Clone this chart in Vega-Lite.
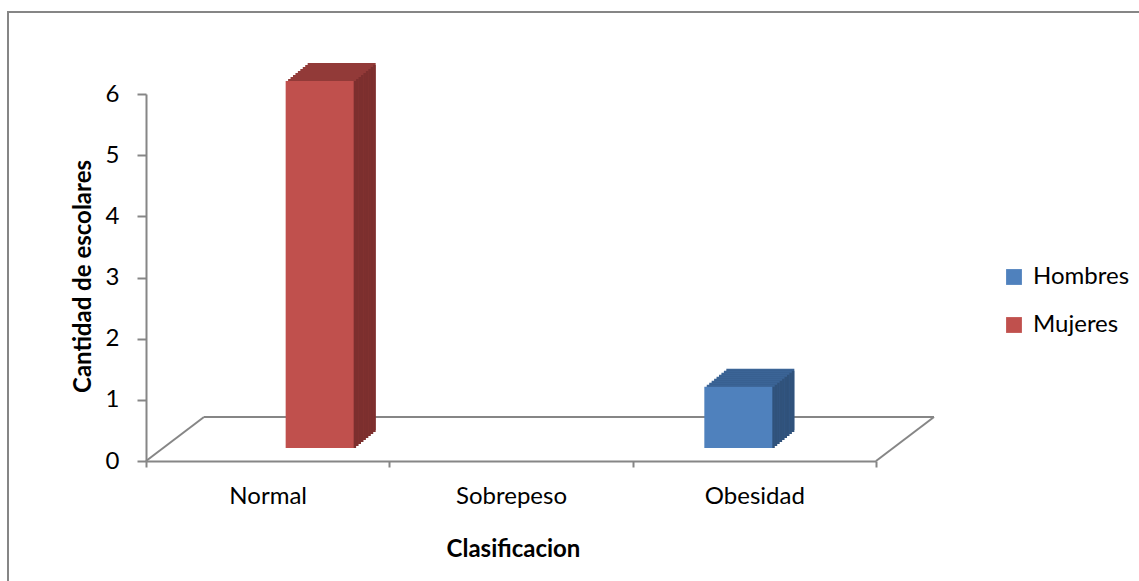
{
  "$schema": "https://vega.github.io/schema/vega-lite/v6.json",
  "autosize": {"type": "none"},
  "width": 1145,
  "height": 585,
  "padding": {"left": 8, "top": 12, "right": -14, "bottom": -16},
  "background": "white",
  "config": {
    "view": {"stroke": "#868686", "strokeWidth": 2, "fill": "white"},
    "font": "Lato",
    "axis": {"labelFont": "Lato", "titleFont": "Lato", "labelColor": "#000000", "titleColor": "#000000", "domainColor": "#868686", "tickColor": "#868686", "domainWidth": 2, "tickWidth": 2, "grid": false}
  },
  "data": {"values": [
    {"Clasificacion": "Normal", "Sexo": "Hombres", "Cantidad": 0},
    {"Clasificacion": "Normal", "Sexo": "Mujeres", "Cantidad": 6},
    {"Clasificacion": "Sobrepeso", "Sexo": "Hombres", "Cantidad": 0},
    {"Clasificacion": "Sobrepeso", "Sexo": "Mujeres", "Cantidad": 0},
    {"Clasificacion": "Obesidad", "Sexo": "Hombres", "Cantidad": 1},
    {"Clasificacion": "Obesidad", "Sexo": "Mujeres", "Cantidad": 0}
  ]},
  "resolve": {"scale": {"x": "shared", "y": "shared"}},
  "layer": [
    {
      "data": {"values": [{}]},
      "mark": {"type": "rule", "color": "#868686", "strokeWidth": 2, "xOffset": 58, "x2Offset": 58, "yOffset": -44},
      "encoding": {
        "x": {"datum": "Normal", "type": "nominal", "bandPosition": 0},
        "x2": {"datum": "Obesidad", "bandPosition": 1},
        "y": {"datum": 0, "type": "quantitative"}
      }
    },
    {
      "data": {"values": [{}]},
      "mark": {"type": "rule", "color": "#868686", "strokeWidth": 2, "x2Offset": 58, "y2Offset": -44},
      "encoding": {
        "x": {"datum": "Normal", "type": "nominal", "bandPosition": 0},
        "x2": {"datum": "Normal", "bandPosition": 0},
        "y": {"datum": 0, "type": "quantitative"},
        "y2": {"datum": 0}
      }
    },
    {
      "data": {"values": [{}]},
      "mark": {"type": "rule", "color": "#868686", "strokeWidth": 2, "x2Offset": 58, "y2Offset": -44},
      "encoding": {
        "x": {"datum": "Obesidad", "type": "nominal", "bandPosition": 1},
        "x2": {"datum": "Obesidad", "bandPosition": 1},
        "y": {"datum": 0, "type": "quantitative"},
        "y2": {"datum": 0}
      }
    },
    {
      "transform": [{"filter": "datum.Cantidad > 0"}],
      "encoding": {
        "x": {
          "field": "Clasificacion", "type": "nominal",
          "scale": {"domain": ["Normal", "Sobrepeso", "Obesidad"], "range": [138, 868], "paddingInner": 0, "paddingOuter": 0},
          "axis": {"title": "Clasificacion", "offset": -136, "labelAngle": 0, "labelAlign": "center", "labelFontSize": 24, "labelBaseline": "alphabetic", "labelPadding": 36, "tickBand": "extent", "tickSize": 6, "titleFontSize": 24, "titleFontWeight": "bold", "titleX": 505, "titleY": 95, "titleBaseline": "alphabetic", "titleAnchor": null, "titleAlign": "center"}
        },
        "y": {
          "field": "Cantidad", "type": "quantitative",
          "scale": {"domain": [0, 6], "range": [449, 82], "nice": false},
          "axis": {"title": "Cantidad de escolares", "offset": -138, "values": [0, 1, 2, 3, 4, 5, 6], "format": "d", "labelFontSize": 24, "labelPadding": 18, "tickSize": 9, "titleFontSize": 24, "titleFontWeight": "bold", "titleX": -56, "titleY": 264, "titleBaseline": "alphabetic", "titleAngle": -90, "titleAlign": "center", "titleAnchor": null}
        }
      },
      "layer": [
        {"mark": {"type": "bar", "width": {"band": 0.2795}, "xOffset": {"expr": "(datum.Sexo === 'Hombres' ? -34 : 34) + 40"}, "yOffset": -31, "y2Offset": -31}, "encoding": {"color": {"condition": {"test": "datum.Sexo === 'Hombres'", "value": "#3B6496"}, "value": "#923A38"}}},
        {"mark": {"type": "bar", "width": {"band": 0.2795}, "xOffset": {"expr": "(datum.Sexo === 'Hombres' ? -34 : 34) + 40"}, "yOffset": -29, "y2Offset": -29}, "encoding": {"color": {"condition": {"test": "datum.Sexo === 'Hombres'", "value": "#30527B"}, "value": "#7C2F2E"}}},
        {"mark": {"type": "bar", "width": {"band": 0.2795}, "xOffset": {"expr": "(datum.Sexo === 'Hombres' ? -34 : 34) + 37.56"}, "yOffset": -29, "y2Offset": -29}, "encoding": {"color": {"condition": {"test": "datum.Sexo === 'Hombres'", "value": "#3B6496"}, "value": "#923A38"}}},
        {"mark": {"type": "bar", "width": {"band": 0.2795}, "xOffset": {"expr": "(datum.Sexo === 'Hombres' ? -34 : 34) + 37.56"}, "yOffset": -27, "y2Offset": -27}, "encoding": {"color": {"condition": {"test": "datum.Sexo === 'Hombres'", "value": "#30527B"}, "value": "#7C2F2E"}}},
        {"mark": {"type": "bar", "width": {"band": 0.2795}, "xOffset": {"expr": "(datum.Sexo === 'Hombres' ? -34 : 34) + 35.11"}, "yOffset": -27, "y2Offset": -27}, "encoding": {"color": {"condition": {"test": "datum.Sexo === 'Hombres'", "value": "#3B6496"}, "value": "#923A38"}}},
        {"mark": {"type": "bar", "width": {"band": 0.2795}, "xOffset": {"expr": "(datum.Sexo === 'Hombres' ? -34 : 34) + 35.11"}, "yOffset": -25, "y2Offset": -25}, "encoding": {"color": {"condition": {"test": "datum.Sexo === 'Hombres'", "value": "#30527B"}, "value": "#7C2F2E"}}},
        {"mark": {"type": "bar", "width": {"band": 0.2795}, "xOffset": {"expr": "(datum.Sexo === 'Hombres' ? -34 : 34) + 32.67"}, "yOffset": -25, "y2Offset": -25}, "encoding": {"color": {"condition": {"test": "datum.Sexo === 'Hombres'", "value": "#3B6496"}, "value": "#923A38"}}},
        {"mark": {"type": "bar", "width": {"band": 0.2795}, "xOffset": {"expr": "(datum.Sexo === 'Hombres' ? -34 : 34) + 32.67"}, "yOffset": -23, "y2Offset": -23}, "encoding": {"color": {"condition": {"test": "datum.Sexo === 'Hombres'", "value": "#30527B"}, "value": "#7C2F2E"}}},
        {"mark": {"type": "bar", "width": {"band": 0.2795}, "xOffset": {"expr": "(datum.Sexo === 'Hombres' ? -34 : 34) + 30.22"}, "yOffset": -23, "y2Offset": -23}, "encoding": {"color": {"condition": {"test": "datum.Sexo === 'Hombres'", "value": "#3B6496"}, "value": "#923A38"}}},
        {"mark": {"type": "bar", "width": {"band": 0.2795}, "xOffset": {"expr": "(datum.Sexo === 'Hombres' ? -34 : 34) + 30.22"}, "yOffset": -21, "y2Offset": -21}, "encoding": {"color": {"condition": {"test": "datum.Sexo === 'Hombres'", "value": "#30527B"}, "value": "#7C2F2E"}}},
        {"mark": {"type": "bar", "width": {"band": 0.2795}, "xOffset": {"expr": "(datum.Sexo === 'Hombres' ? -34 : 34) + 27.78"}, "yOffset": -21, "y2Offset": -21}, "encoding": {"color": {"condition": {"test": "datum.Sexo === 'Hombres'", "value": "#3B6496"}, "value": "#923A38"}}},
        {"mark": {"type": "bar", "width": {"band": 0.2795}, "xOffset": {"expr": "(datum.Sexo === 'Hombres' ? -34 : 34) + 27.78"}, "yOffset": -19, "y2Offset": -19}, "encoding": {"color": {"condition": {"test": "datum.Sexo === 'Hombres'", "value": "#30527B"}, "value": "#7C2F2E"}}},
        {"mark": {"type": "bar", "width": {"band": 0.2795}, "xOffset": {"expr": "(datum.Sexo === 'Hombres' ? -34 : 34) + 25.33"}, "yOffset": -19, "y2Offset": -19}, "encoding": {"color": {"condition": {"test": "datum.Sexo === 'Hombres'", "value": "#3B6496"}, "value": "#923A38"}}},
        {"mark": {"type": "bar", "width": {"band": 0.2795}, "xOffset": {"expr": "(datum.Sexo === 'Hombres' ? -34 : 34) + 25.33"}, "yOffset": -17, "y2Offset": -17}, "encoding": {"color": {"condition": {"test": "datum.Sexo === 'Hombres'", "value": "#30527B"}, "value": "#7C2F2E"}}},
        {"mark": {"type": "bar", "width": {"band": 0.2795}, "xOffset": {"expr": "(datum.Sexo === 'Hombres' ? -34 : 34) + 22.89"}, "yOffset": -17, "y2Offset": -17}, "encoding": {"color": {"condition": {"test": "datum.Sexo === 'Hombres'", "value": "#3B6496"}, "value": "#923A38"}}},
        {"mark": {"type": "bar", "width": {"band": 0.2795}, "xOffset": {"expr": "(datum.Sexo === 'Hombres' ? -34 : 34) + 22.89"}, "yOffset": -15, "y2Offset": -15}, "encoding": {"color": {"condition": {"test": "datum.Sexo === 'Hombres'", "value": "#30527B"}, "value": "#7C2F2E"}}},
        {"mark": {"type": "bar", "width": {"band": 0.2795}, "xOffset": {"expr": "(datum.Sexo === 'Hombres' ? -34 : 34) + 20.44"}, "yOffset": -15, "y2Offset": -15}, "encoding": {"color": {"condition": {"test": "datum.Sexo === 'Hombres'", "value": "#3B6496"}, "value": "#923A38"}}},
        {"mark": {"type": "bar", "width": {"band": 0.2795}, "xOffset": {"expr": "(datum.Sexo === 'Hombres' ? -34 : 34) + 20.44"}, "yOffset": -13, "y2Offset": -13}, "encoding": {"color": {"condition": {"test": "datum.Sexo === 'Hombres'", "value": "#30527B"}, "value": "#7C2F2E"}}},
        {
          "mark": {"type": "bar", "width": {"band": 0.2795}, "xOffset": {"expr": "(datum.Sexo === 'Hombres' ? -34 : 34) + 18"}, "yOffset": -13, "y2Offset": -13},
          "encoding": {
            "color": {
              "field": "Sexo", "type": "nominal",
              "scale": {"domain": ["Hombres", "Mujeres"], "range": ["#4F81BD", "#C0504D"]},
              "legend": {"title": null, "orient": "none", "legendX": 994, "legendY": 253, "symbolType": "square", "symbolSize": 250, "symbolStrokeWidth": 0, "labelFont": "Lato", "labelFontSize": 24, "labelColor": "#000000", "labelOffset": 7, "rowPadding": 24, "padding": 0}
            }
          }
        }
      ]
    }
  ]
}
